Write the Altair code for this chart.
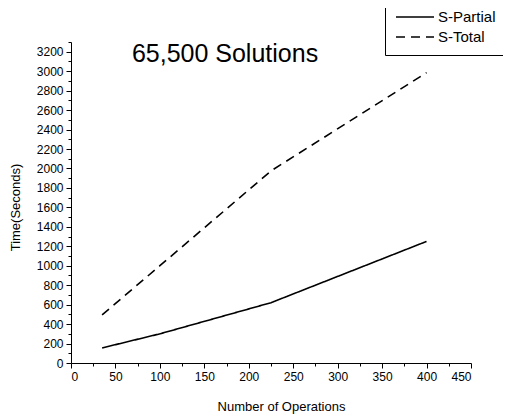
import altair as alt
import pandas as pd

ops = [35, 100, 225, 400]
s_partial = [155, 300, 620, 1250]
s_total = [495, 1000, 1975, 2985]
series_names = ["S-Partial", "S-Total"]
title_text = "65,500 Solutions"

x_major = [0, 50, 100, 150, 200, 250, 300, 350, 400, 450]
x_minor = [25, 75, 125, 175, 225, 275, 325, 375, 425]
y_major = list(range(0, 3201, 200))
y_minor = list(range(100, 3301, 200))

rows = []
for o, v in zip(ops, s_partial):
    rows.append({"ops": o, "time": v, "series": series_names[0]})
for o, v in zip(ops, s_total):
    rows.append({"ops": o, "time": v, "series": series_names[1]})
df = pd.DataFrame(rows)

FONT = "Liberation Sans"
xscale = alt.Scale(domain=[0, 450], nice=False, zero=False)
yscale = alt.Scale(domain=[0, 3300], nice=False, zero=False)

common_axis = dict(domainColor="black", tickColor="black", labelColor="black",
                   titleColor="black", labelFont=FONT, titleFont=FONT,
                   grid=False, domainWidth=1, tickWidth=1, format="d")

lines = alt.Chart(df).mark_line(color="black", strokeWidth=1.6).encode(
    x=alt.X("ops:Q", scale=xscale,
            axis=alt.Axis(values=x_major, orient="bottom", tickSize=5, labelFontSize=12,
                          labelPadding=3, title="Number of Operations", titleFontSize=13,
                          titleFontWeight="normal", titleX=210, titleY=43,
                          titleBaseline="middle", titleAlign="center", **common_axis)),
    y=alt.Y("time:Q", scale=yscale,
            axis=alt.Axis(values=y_major, orient="left", tickSize=5, labelFontSize=12,
                          labelPadding=3, title="Time(Seconds)", titleFontSize=13,
                          titleFontWeight="normal", titleX=-56, titleY=165,
                          titleBaseline="middle", titleAlign="center", **common_axis)),
    strokeDash=alt.StrokeDash("series:N",
        scale=alt.Scale(domain=series_names, range=[[1, 0], [9, 6]]),
        legend=alt.Legend(title=None, orient="none", legendX=314, legendY=-42,
                          strokeColor="black", fillColor="white", padding=10,
                          symbolType="stroke", symbolStrokeColor="black",
                          symbolStrokeWidth=1.5, symbolSize=1444, clipHeight=14,
                          labelFont=FONT, labelFontSize=15, labelColor="black",
                          rowPadding=5, labelOffset=3)),
)

minor = alt.Chart(df).mark_line(opacity=0).encode(
    x=alt.X("ops:Q", scale=xscale,
            axis=alt.Axis(values=x_minor, orient="bottom", tickSize=3, labels=False,
                          domain=False, title=None, grid=False, tickColor="black")),
    y=alt.Y("time:Q", scale=yscale,
            axis=alt.Axis(values=y_minor, orient="left", tickSize=3, labels=False,
                          domain=False, title=None, grid=False, tickColor="black")),
    detail="series:N",
)

chart = alt.layer(lines, minor).resolve_axis(x="independent", y="independent").properties(
    width=400, height=321,
    autosize=alt.AutoSizeParams(type="none"),
    padding={"left": 63, "top": 34, "right": 32, "bottom": 52},
    title=alt.TitleParams(title_text, font=FONT, fontSize=25, fontWeight="normal",
                          color="black", anchor="middle", offset=0, dx=-46, dy=87,
                          baseline="alphabetic", frame="group"),
).configure_view(stroke=None)

chart.save("out.html", embed_options={"renderer": "svg", "actions": False})
